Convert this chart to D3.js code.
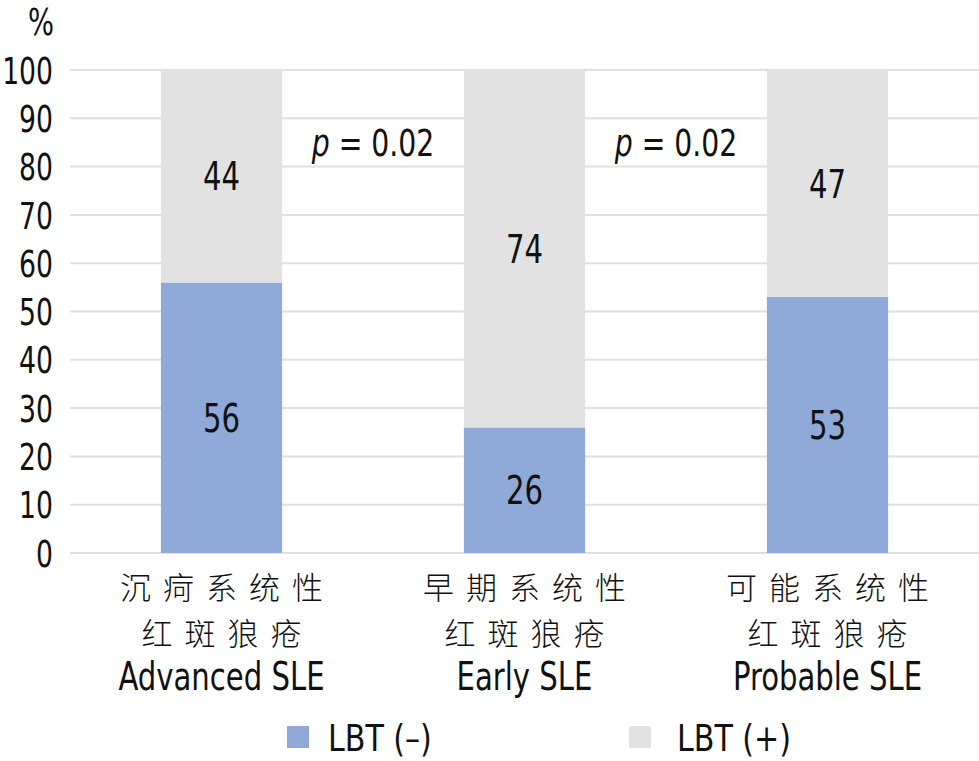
<!DOCTYPE html>
<html><head><meta charset="utf-8">
<script src="https://cdn.jsdelivr.net/npm/d3@7"></script>
<style>body{margin:0;background:#fff}svg{display:block}</style>
</head><body>
<svg id="c" width="979" height="761"></svg>
<script>
const categoriesZh1 = ["沉疴系统性", "早期系统性", "可能系统性"];
const categoriesZh2 = ["红斑狼疮", "红斑狼疮", "红斑狼疮"];
const categoriesEn = ["Advanced SLE", "Early SLE", "Probable SLE"];
const lbtNeg = [56, 26, 53];
const lbtPos = [44, 74, 47];
const seriesNames = ["LBT (–)", "LBT (+)"];
const yTicks = [0, 10, 20, 30, 40, 50, 60, 70, 80, 90, 100];
const pLabels = ["p = 0.02", "p = 0.02"];

const colors = ["#8faad8", "#e2e2e2"];
const latin = "'DejaVu Sans Condensed','DejaVu Sans',sans-serif";
const cjk = "'Noto Sans CJK SC',sans-serif";
const SX = 0.83;

const svg = d3.select("#c");
const x = d3.scaleBand().domain(d3.range(3)).range([70, 979]).paddingInner(0.6).paddingOuter(0.3);
const y = d3.scaleLinear().domain([0, 100]).range([553, 70]);

function ltext(sel, px, py, size, sx, anchor) {
  return sel.append("text")
    .attr("transform", `translate(${px},${py}) scale(${sx},1)`)
    .attr("dy", "0.36em").attr("text-anchor", anchor || "middle")
    .style("font-family", latin).style("font-size", size + "px").attr("fill", "#111");
}

// gridlines
svg.append("g").selectAll("line").data(yTicks).join("line")
  .attr("x1", 70).attr("x2", 979).attr("y1", d => y(d)).attr("y2", d => y(d))
  .attr("stroke", "#e0e0e0").attr("stroke-width", 2);

// y labels
const yl = svg.append("g");
yTicks.forEach(t => ltext(yl, 53, y(t), 38, 0.78, "end").text(t));
ltext(svg, 41, 21, 38, 0.8, "middle").text("%");

const stackData = d3.range(3).map(i => ({i, neg: lbtNeg[i], pos: lbtPos[i]}));
const stack = d3.stack().keys(["neg", "pos"])(stackData);

svg.append("g").selectAll("g").data(stack).join("g").attr("fill", (d, k) => colors[k])
  .selectAll("rect").data(d => d).join("rect")
  .attr("x", d => x(d.data.i)).attr("width", x.bandwidth())
  .attr("y", d => y(d[1])).attr("height", d => y(d[0]) - y(d[1]));

// value labels
const vl = svg.append("g");
stack.forEach(s => s.forEach(d => {
  ltext(vl, x(d.data.i) + x.bandwidth() / 2, y((d[0] + d[1]) / 2), 39, SX, "middle").text(d[1] - d[0]);
}));

// p labels between bars
pLabels.forEach((t, k) => {
  const cx = (x(k) + x.bandwidth() + x(k + 1)) / 2;
  const txt = ltext(svg, cx, 143, 37, 0.85, "middle");
  txt.append("tspan").style("font-style", "italic").text(t.slice(0, 1));
  txt.append("tspan").text(t.slice(1));
});

// x labels
const xl = svg.append("g").selectAll("g").data(d3.range(3)).join("g")
  .attr("transform", i => `translate(${x(i) + x.bandwidth() / 2},0)`);
[[categoriesZh1, 588], [categoriesZh2, 634]].forEach(([arr, yy]) => {
  xl.append("text").attr("x", 6).attr("y", yy).attr("dy", "0.36em").attr("text-anchor", "middle")
    .style("font-family", cjk).style("font-weight", 300).style("font-size", "31px")
    .style("letter-spacing", "12px").attr("fill", "#111")
    .text(i => arr[i]);
});
xl.each(function(i) {
  ltext(d3.select(this), 0, 676, 39, SX, "middle").text(categoriesEn[i]);
});

// legend
const legX = [287, 629];
seriesNames.forEach((name, k) => {
  const g = svg.append("g").attr("transform", `translate(${legX[k]},737)`);
  g.append("rect").attr("x", 0).attr("y", -11).attr("width", 22).attr("height", 22).attr("fill", colors[k]);
  ltext(g, k === 0 ? 41 : 48, 0, 38, 0.88, "start").text(name);
});
</script>
</body></html>
